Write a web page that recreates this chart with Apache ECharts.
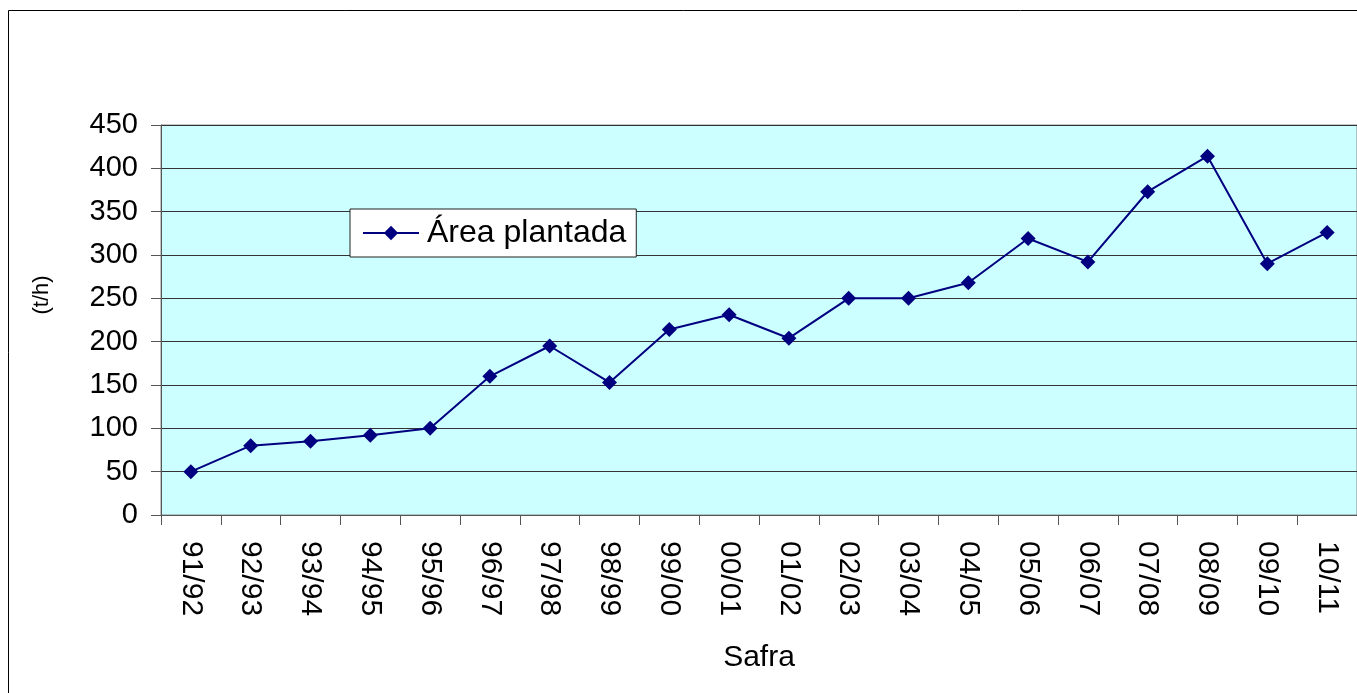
<!DOCTYPE html>
<html>
<head>
<meta charset="utf-8">
<script src="https://cdn.jsdelivr.net/npm/echarts@6/dist/echarts.min.js"></script>
<style>
html,body{margin:0;padding:0;background:#fff;}
#main{width:1357px;height:693px;}
</style>
</head>
<body>
<div id="main"></div>
<script>
var safras = ['91/92','92/93','93/94','94/95','95/96','96/97','97/98','98/99','99/00','00/01',
    '01/02','02/03','03/04','04/05','05/06','06/07','07/08','08/09','09/10','10/11'];
var areaPlantada = [50, 80, 85, 92, 100, 160, 195, 153, 214, 231,
    204, 250, 250, 268, 319, 292, 373, 414, 290, 326];
var yTicks = [0, 450, 50];

var fonte = '"Liberation Sans", Arial, sans-serif';
var myChart = echarts.init(document.getElementById('main'));
var option = {
    backgroundColor: '#fff',
    animation: false,
    textStyle: {fontFamily: fonte},
    graphic: [{
        type: 'rect',
        shape: {x: 8.5, y: 10.5, width: 1360, height: 700},
        style: {fill: 'none', stroke: '#000', lineWidth: 1},
        silent: true
    }],
    grid: {left: 161, right: -5, top: 125, bottom: 178, show: true,
        backgroundColor: '#CCFFFF', borderColor: '#888', borderWidth: 1},
    legend: {
        left: 350, top: 209,
        padding: [8, 10, 8, 12],
        backgroundColor: '#fff', borderColor: '#222', borderWidth: 1,
        itemWidth: 56, itemHeight: 18, itemGap: 6,
        textStyle: {fontSize: 32, color: '#000', fontFamily: fonte, padding: [0, 0, 0, 3]},
        data: ['Área plantada']
    },
    xAxis: {
        type: 'category',
        data: safras,
        boundaryGap: true,
        name: 'Safra',
        nameLocation: 'middle',
        nameGap: 128,
        nameTextStyle: {fontSize: 30, color: '#000'},
        axisLine: {lineStyle: {color: '#555', width: 1}},
        axisTick: {show: true, length: 10, lineStyle: {color: '#555'}},
        axisLabel: {rotate: -90, fontSize: 30, color: '#000', margin: 26}
    },
    yAxis: {
        type: 'value',
        min: yTicks[0], max: yTicks[1], interval: yTicks[2],
        name: '(t/h)',
        nameLocation: 'middle',
        nameGap: 108,
        nameRotate: 90,
        nameTextStyle: {fontSize: 22, color: '#000', padding: [0, 0, 0, 50]},
        axisLine: {show: true, lineStyle: {color: '#555', width: 1}},
        axisTick: {show: true, length: 10, lineStyle: {color: '#555'}},
        axisLabel: {fontSize: 29, color: '#000', margin: 23},
        splitLine: {show: true, lineStyle: {color: '#333', width: 1}}
    },
    series: [{
        name: 'Área plantada',
        type: 'line',
        data: areaPlantada,
        symbol: 'diamond',
        symbolSize: 15,
        itemStyle: {color: '#000080'},
        lineStyle: {color: '#000080', width: 2}
    }]
};
myChart.setOption(option);
</script>
</body>
</html>
